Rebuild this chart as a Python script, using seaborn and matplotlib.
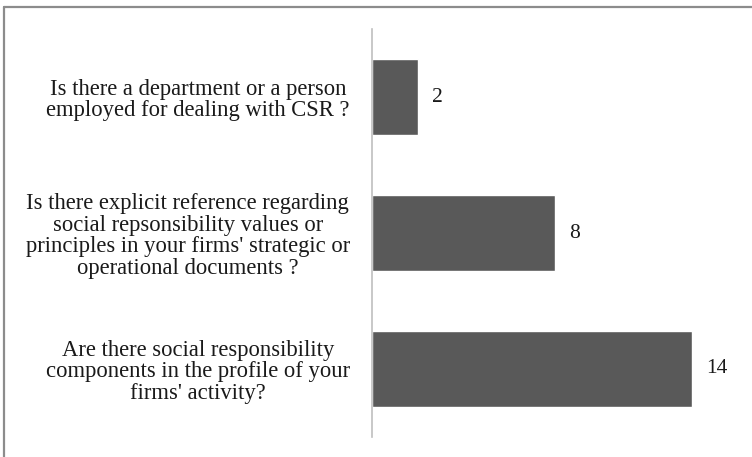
import matplotlib
matplotlib.use("Agg")
import matplotlib.pyplot as plt
import seaborn as sns
import pandas as pd
from matplotlib.lines import Line2D

questions = [
    "Is there a department or a person\nemployed for dealing with CSR ?",
    "Is there explicit reference regarding\nsocial repsonsibility values or\nprinciples in your firms' strategic or\noperational documents ?",
    "Are there social responsibility\ncomponents in the profile of your\nfirms' activity?",
]
counts = [2, 8, 14]

df = pd.DataFrame({"question": questions, "count": counts})

sns.set_theme(style="white")
plt.rcParams["font.family"] = ["Liberation Serif", "DejaVu Serif"]

fig = plt.figure(figsize=(7.52, 4.57), dpi=100)
ax = fig.add_axes([0.4947, 0.0438, 0.4865, 0.8927])

sns.barplot(data=df, x="count", y="question", orient="h", color="#595959",
            saturation=1, width=0.56, ax=ax)

ax.set_xlim(0, 16)
ax.set_ylim(2.5, -0.5)
ax.set_xlabel("")
ax.set_ylabel("")
ax.set_xticks([])

for side in ("top", "right", "bottom"):
    ax.spines[side].set_visible(False)
ax.spines["left"].set_color("#bfbfbf")
ax.spines["left"].set_linewidth(1.2)

ax.tick_params(axis="y", length=0, pad=16)
for lbl in ax.get_yticklabels():
    lbl.set_multialignment("center")
    lbl.set_fontsize(16.3)
    lbl.set_linespacing(1.04)
    lbl.set_color("#1a1a1a")

for container in ax.containers:
    ax.bar_label(container, labels=[str(v) for v in counts], padding=10,
                 fontsize=15.5, color="#1a1a1a")

# chart frame (top and left edges)
fig.add_artist(Line2D([4 / 752, 4 / 752], [0, 1 - 7 / 457], transform=fig.transFigure,
                      color="#8c8c8c", linewidth=1.6))
fig.add_artist(Line2D([4 / 752, 1], [1 - 7 / 457, 1 - 7 / 457], transform=fig.transFigure,
                      color="#8c8c8c", linewidth=1.6))

fig.savefig("out.png", dpi=100)
